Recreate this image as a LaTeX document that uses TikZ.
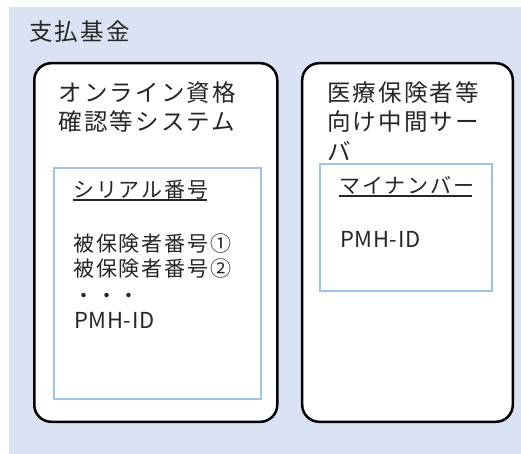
\documentclass[tikz,border=0pt]{standalone}
\usepackage{fontspec}
\newfontfamily\jp[LetterSpace=9]{Noto Sans CJK JP}
\newfontfamily\jpl[LetterSpace=3]{Noto Sans CJK JP}
\definecolor{bgblue}{HTML}{DAE3F3}
\definecolor{lineblue}{HTML}{9DC3E6}
\definecolor{txt}{HTML}{262626}
\begin{document}
\begin{tikzpicture}[x=1pt,y=-1pt,
  outerbox/.style={draw=black, line width=2.5pt, fill=white, rounded corners=17pt, inner sep=0pt, outer sep=0pt},
  innerbox/.style={draw=lineblue, line width=2pt, fill=white, inner sep=0pt, outer sep=0pt},
  title/.style={anchor=base west, inner sep=0pt, text=txt, font=\jp\fontsize{23.5}{28}\selectfont},
  item/.style={anchor=base west, inner sep=0pt, text=txt, font=\jp\fontsize{21}{25}\selectfont},
  latin/.style={anchor=base west, inner sep=0pt, text=txt, font=\jpl\fontsize{22}{25}\selectfont},
  uline/.style={draw=txt, line width=1.1pt}]
\useasboundingbox (0,0) rectangle (521,454);
\fill[bgblue] (9,7) rectangle (521,454);
\node[title] (fund) at (29,41) {支払基金};
% boxes
\node[outerbox, minimum width=243pt, minimum height=358.6pt] (osys) at (155.75,242.5) {};
\node[outerbox, minimum width=210.6pt, minimum height=358.6pt] (mid) at (407.5,242.5) {};
\node[innerbox, minimum width=206.4pt, minimum height=231.3pt] (otab) at (157.5,283.35) {};
\node[innerbox, minimum width=172pt, minimum height=126.4pt] (mtab) at (406.3,227.5) {};
% titles
\node[title] (t1a) at (58.5,102) {オンライン資格};
\node[title] (t1b) at (58.5,131) {確認等システム};
\node[title] (t2a) at (327,101.5) {医療保険者等};
\node[title] (t2b) at (327,131) {向け中間サー};
\node[title] (t2c) at (327,160.5) {バ};
% left table
\node[item] (serial) at (73,197.5) {シリアル番号};
\draw[uline] ([yshift=-2.5pt]serial.base west) -- ([yshift=-2.5pt,xshift=-2pt]serial.base east);
\node[item] (ins1) at (73,251.3) {被保険者番号①};
\node[item] (ins2) at (73,276.3) {被保険者番号②};
\node[item] (dots) at (73,303.7) {・・・};
\node[latin] (pmh1) at (74,328.3) {PMH-ID};
% right table
\node[item] (myno) at (339,193.5) {マイナンバー};
\draw[uline] ([yshift=-2.5pt]myno.base west) -- ([yshift=-2.5pt,xshift=-2pt]myno.base east);
\node[latin] (pmh2) at (340,247) {PMH-ID};
\end{tikzpicture}
\end{document}
